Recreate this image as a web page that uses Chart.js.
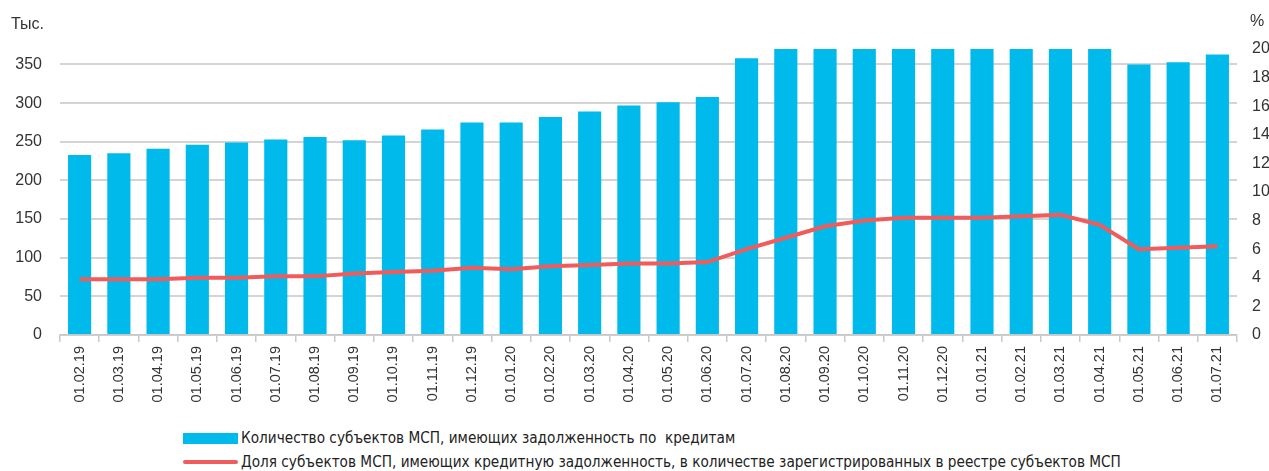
<!DOCTYPE html>
<html>
<head>
<meta charset="utf-8">
<script src="https://cdn.jsdelivr.net/npm/chart.js@4"></script>
<style>
  body { margin: 0; background: #fff; font-family: "Liberation Sans", Arial, sans-serif; }
  #wrap { position: relative; width: 1269px; height: 471px; }
  #chart { position: absolute; left: 0; top: 0; }
  .legend { position: absolute; left: 183px; font-family: "Liberation Sans Narrow", "DejaVu Sans Condensed", sans-serif; font-size: 15.2px; color: #222; }
  .legend div { position: relative; height: 24px; line-height: 24px; padding-left: 58px; white-space: pre; }
  .legend span { position: absolute; left: 0; width: 55px; }
</style>
</head>
<body>
<div id="wrap">
  <canvas id="chart" width="1269" height="420"></canvas>
  <div class="legend" id="legend" style="top: 426px;"></div>
</div>
<script>
const labels = ['01.02.19', '01.03.19', '01.04.19', '01.05.19', '01.06.19', '01.07.19', '01.08.19', '01.09.19',
    '01.10.19', '01.11.19', '01.12.19', '01.01.20', '01.02.20', '01.03.20', '01.04.20', '01.05.20', '01.06.20',
    '01.07.20', '01.08.20', '01.09.20', '01.10.20', '01.11.20', '01.12.20', '01.01.21', '01.02.21', '01.03.21',
    '01.04.21', '01.05.21', '01.06.21', '01.07.21'];

// тыс. субъектов (bars above 370 are cut off in the original)
const borrowers = [233, 235, 241, 246, 249, 253, 256, 252, 258, 266, 275, 275, 282, 289, 297, 301, 308,
    358, 380, 380, 380, 380, 380, 380, 380, 380, 380, 350, 353, 363];

// %
const share = [3.9, 3.9, 3.9, 4.0, 4.0, 4.1, 4.1, 4.3, 4.4, 4.5, 4.7, 4.6, 4.8, 4.9, 5.0, 5.0, 5.1,
    6.0, 6.8, 7.6, 8.0, 8.2, 8.2, 8.2, 8.3, 8.4, 7.7, 6.0, 6.1, 6.2];

const leftTicks = [0, 50, 100, 150, 200, 250, 300, 350];

const barLabel = 'Количество субъектов МСП, имеющих задолженность по  кредитам';
const lineLabel = 'Доля субъектов МСП, имеющих кредитную задолженность, в количестве зарегистрированных в реестре субъектов МСП';

const blue = '#00BAEC';
const red = '#F25B5B';
const tickFont = { family: '"Liberation Sans", Arial, sans-serif', size: 16 };

const axisTitles = {
    id: 'axisTitles',
    afterDraw(chart) {
        const ctx = chart.ctx;
        ctx.save();
        ctx.fillStyle = '#333';
        ctx.font = '16px "Liberation Sans", Arial, sans-serif';
        ctx.textBaseline = 'middle';
        ctx.textAlign = 'left';
        ctx.fillText('Тыс.', 11, 25);
        ctx.fillText('%', 1250, 22);
        ctx.restore();
    }
};

new Chart(document.getElementById('chart'), {
    type: 'bar',
    data: {
        labels: labels,
        datasets: [
            {
                type: 'line',
                label: lineLabel,
                data: share,
                yAxisID: 'y2',
                borderColor: red,
                borderWidth: 4,
                pointRadius: 0,
                tension: 0,
                order: 0
            },
            {
                label: barLabel,
                data: borrowers,
                yAxisID: 'y',
                backgroundColor: blue,
                barPercentage: 0.59,
                categoryPercentage: 1,
                order: 1
            }
        ]
    },
    options: {
        responsive: false,
        animation: false,
        layout: { padding: { top: 49, left: 0, right: 0, bottom: 0 } },
        plugins: {
            legend: { display: false },
            tooltip: { enabled: false }
        },
        scales: {
            x: {
                grid: { offset: true, drawOnChartArea: false, color: '#c8c8c8', tickLength: 7, lineWidth: 1.5 },
                border: { color: '#c8c8c8', width: 1.5 },
                ticks: { color: '#333', font: { family: '"Liberation Sans", Arial, sans-serif', size: 14.5 }, minRotation: 90, maxRotation: 90, padding: 4, autoSkip: false },
                afterFit: s => { s.height = 85; }
            },
            y: {
                position: 'left',
                min: 0,
                max: 370,
                ticks: { color: '#333', font: tickFont, padding: 18 },
                grid: { color: '#d4d4d4', lineWidth: 2, drawTicks: false },
                border: { display: false },
                afterBuildTicks: s => { s.ticks = leftTicks.map(v => ({ value: v })); },
                afterFit: s => { s.width = 60; }
            },
            y2: {
                position: 'right',
                min: 0,
                max: 20,
                ticks: { stepSize: 2, color: '#333', font: tickFont, padding: 15 },
                grid: { display: false, drawTicks: false },
                border: { display: false },
                afterFit: s => { s.width = 32; }
            }
        }
    },
    plugins: [axisTitles]
});

// легенда
const legend = document.getElementById('legend');
[[barLabel, 'height: 11px; top: 7px; background: ' + blue + ';'],
 [lineLabel, 'height: 4px; top: 10px; border-radius: 2px; background: ' + red + ';']].forEach(([text, style]) => {
    const row = document.createElement('div');
    const mark = document.createElement('span');
    mark.style.cssText = style;
    row.appendChild(mark);
    row.appendChild(document.createTextNode(text));
    legend.appendChild(row);
});
</script>
</body>
</html>
